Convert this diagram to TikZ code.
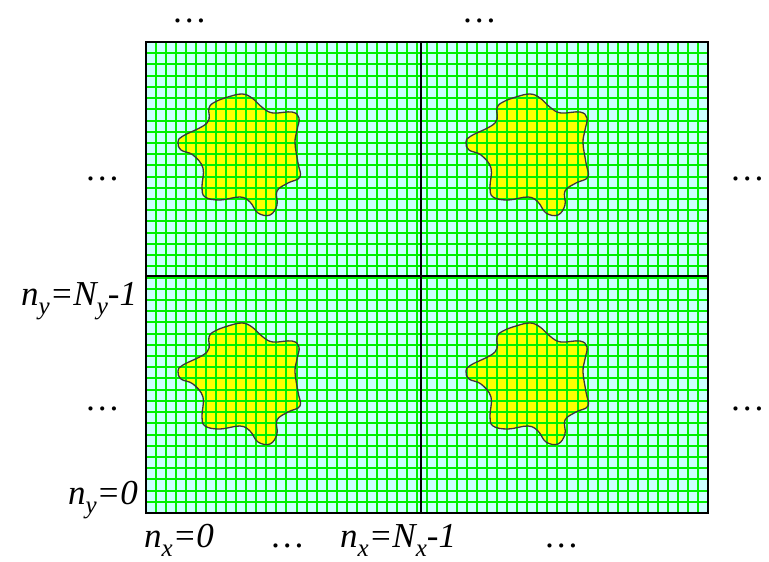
\documentclass[tikz,border=0pt]{standalone}
\usepackage{fontspec}
\setmainfont{Liberation Serif}
\definecolor{gridbg}{HTML}{CCFFFF}
\definecolor{gridline}{HTML}{00F000}
\definecolor{blobfill}{HTML}{FFFF00}
\definecolor{blobline}{HTML}{383838}
\newcommand\mysub[1]{\raisebox{-0.28em}{\fontsize{25}{25}\selectfont #1}}
\begin{document}
\begin{tikzpicture}[x=1pt,y=-1pt,
  lbl/.style={inner sep=0pt,anchor=base west,font=\fontsize{35}{35}\selectfont\itshape},
  dots/.style={inner sep=0pt,anchor=base,text height=5pt,text depth=0pt,font=\fontsize{35}{35}\selectfont\itshape},
  gl/.style={gridline,line width=2pt},
  bloboutline/.style={draw=blobline,line width=1.3pt}]
\useasboundingbox (0,0) rectangle (769,562);
\def\blobpath{plot[smooth cycle,tension=0.65] coordinates {
 (242,94) (252,98) (263,108) (273,113) (292,112) (299,118) (297,130) (295,143)
 (298,163) (300,177) (288,183) (277,191) (277,205) (270,215) (258,213) (250,202)
 (240,197) (220,200) (205,197) (202,187) (203,168) (193,155) (181,150) (178,142)
 (183,136) (207,123) (209,108) (215,102) (228,97)}}
% background
\fill[gridbg] (146,42) rectangle (708,513);
% blobs fill
\foreach \dx/\dy in {0/0,288/0,0/229,288/229}{
  \fill[blobfill,shift={(\dx,\dy)}] \blobpath;
}
% grid (snapped to whole pixels)
\foreach \k in {1,...,55}{
  \pgfmathsetmacro\gx{146+round(\k*10.0357)}
  \draw[gl] (\gx,42) -- (\gx,513);
}
\foreach \k in {1,...,41}{
  \pgfmathsetmacro\gy{42+round(\k*11.2143)}
  \draw[gl] (146,\gy) -- (708,\gy);
}
% blob outlines
\foreach \dx/\dy in {0/0,288/0,0/229,288/229}{
  \draw[bloboutline,shift={(\dx,\dy)}] \blobpath;
}
% mid lines and border
\draw[black,line width=1.4pt] (421,42) -- (421,513);
\draw[black,line width=1.4pt] (146,276) -- (708,276);
\draw[black,line width=2.4pt] (146,42) rectangle (708,513);
% labels
\node[dots] (dt1) at (190,22) {…};
\node[dots] (dt2) at (480,22) {…};
\node[dots] (dl1) at (103,180) {…};
\node[dots] (dl2) at (103,410) {…};
\node[dots] (dr1) at (748,180) {…};
\node[dots] (dr2) at (748,410) {…};
\node[dots] (db1) at (288,547) {…};
\node[dots] (db2) at (562,547) {…};
\node[lbl] (nyN) at (21,305) {n\mysub{y}=N\mysub{y}-1};
\node[lbl,anchor=base east] (ny0) at (138,504) {n\mysub{y}=0};
\node[lbl] (nx0) at (144,547) {n\mysub{x}=0};
\node[lbl] (nxN) at (340,547) {n\mysub{x}=N\mysub{x}-1};
\end{tikzpicture}
\end{document}
